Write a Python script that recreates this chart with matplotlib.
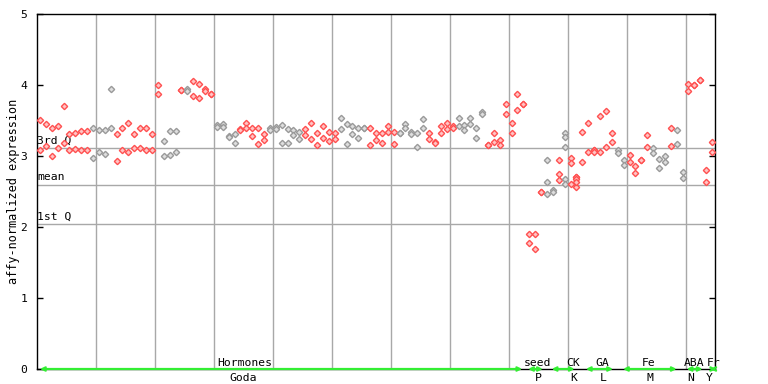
import matplotlib
matplotlib.use("Agg")
import matplotlib.pyplot as plt

# expression values per sample (replicates)
expr = [
    [3.51, 3.08], [3.45, 3.14], [3.40, 3.00], [3.42, 3.11], [3.70, 3.18],
    [3.31, 3.08], [3.33, 3.10], [3.35, 3.08], [3.35, 3.08], [3.40, 2.97],
    [3.37, 3.06], [3.37, 3.03], [3.95, 3.39], [3.31, 2.93], [3.39, 3.08],
    [3.47, 3.06], [3.31, 3.11], [3.39, 3.11], [3.39, 3.08], [3.31, 3.08],
    [4.00, 3.87], [3.21, 3.00], [3.35, 3.01], [3.35, 3.06], [3.93, 3.93],
    [3.95, 3.92], [4.06, 3.85], [4.02, 3.81], [3.94, 3.91], [3.88, 3.88],
    [3.44, 3.41], [3.45, 3.41], [3.28, 3.27], [3.31, 3.19], [3.38, 3.36],
    [3.46, 3.40], [3.40, 3.28], [3.39, 3.17], [3.31, 3.23], [3.39, 3.37],
    [3.41, 3.38], [3.44, 3.19], [3.38, 3.19], [3.36, 3.29], [3.34, 3.24],
    [3.38, 3.29], [3.46, 3.24], [3.33, 3.15], [3.42, 3.26], [3.34, 3.21],
    [3.33, 3.24], [3.53, 3.38], [3.45, 3.17], [3.42, 3.31], [3.39, 3.25],
    [3.40, 3.40], [3.39, 3.15], [3.33, 3.22], [3.32, 3.19], [3.42, 3.34],
    [3.34, 3.17], [3.33, 3.33], [3.45, 3.39], [3.34, 3.31], [3.33, 3.12],
    [3.52, 3.39], [3.33, 3.24], [3.20, 3.18], [3.42, 3.33], [3.46, 3.38],
    [3.42, 3.39], [3.54, 3.42], [3.44, 3.36], [3.54, 3.45], [3.40, 3.26],
    [3.62, 3.59], [3.16, 3.16], [3.33, 3.20], [3.23, 3.16], [3.73, 3.59],
    [3.47, 3.33], [3.88, 3.65], [3.73, 3.73], [1.90, 1.77], [1.90, 1.69],
    [2.50, 2.50], [2.95, 2.63, 2.46], [2.52, 2.49], [2.94, 2.74, 2.66],
    [3.33, 3.27, 3.13, 2.68, 2.61], [2.97, 2.90, 2.61],
    [2.71, 2.71, 2.68, 2.57, 2.63], [3.34, 2.91], [3.47, 3.05],
    [3.09, 3.09, 3.06], [3.56, 3.05], [3.64, 3.13], [3.33, 3.20],
    [3.09, 3.04], [2.95, 2.87], [3.02, 2.91], [2.86, 2.76], [2.95, 2.95],
    [3.29, 3.12], [3.11, 3.04], [2.96, 2.83], [3.00, 2.91], [3.39, 3.14],
    [3.37, 3.17], [2.77, 2.69], [4.01, 3.92], [4.00, 4.00], [4.07, 4.07],
    [2.80, 2.63], [3.20, 3.05],
]

# alternating experiment shading (r = red, g = gray)
shade = ("rrrrrrrrrggggrrrrrrrrgggrgrrrrggggrrrrrggggggrrrrrrgggggrrrrr"
         "gggggrrrrrgggggrrrrrrrrrrggrgrrrrrrrrggrrrrgggrggrrrrr")

quartiles = [("3rd Q", 3.11), ("mean", 2.59), ("1st Q", 2.04)]

groups = ["Hormones", "seed", "CK", "GA", "Fe", "ABA", "Fr"]
sub_labels = ["Goda", "P", "K", "L", "M", "N", "Y"]
group_span = [(0, 81.8), (82.8, 85.3), (86.8, 90.7), (92.6, 97.2),
              (98.9, 108.0), (109.7, 112.4), (113.7, 114.7)]
group_pos = [34.7, 84.4, 90.4, 95.3, 103.2, 110.9, 114.2]
sub_pos = [34.5, 84.5, 90.6, 95.5, 103.5, 110.4, 113.5]

plt.rcParams['font.family'] = 'DejaVu Sans Mono'
fsz = 8.2
red = '#ff5050'
gray = '#9a9a9a'
gridc = '#a8a8a8'

fig = plt.figure(figsize=(7.68, 3.84), dpi=100)
ax = fig.add_axes([37/768, 15/384, 678/768, 355/384])

n = len(expr)
ax.set_xlim(-0.5, n - 0.5)
ax.set_ylim(0, 5)

# vertical grid every 10 samples
for k in range(1, 12):
    ax.axvline(k * 10 - 0.5, color=gridc, lw=1.0, zorder=1)

for name, val in quartiles:
    ax.axhline(val, color=gridc, lw=1.0, zorder=1)
    ax.text(-0.45, val + 0.04, name, fontsize=fsz, va='bottom', ha='left', zorder=2)

for i, vals in enumerate(expr):
    c = red if shade[i] == 'r' else gray
    fc = '#ffc4c4' if shade[i] == 'r' else '#dedede'
    ax.plot([i] * len(vals), vals, linestyle='None', marker='D', markersize=3.2,
            markerfacecolor=fc, markeredgecolor=c, markeredgewidth=1.0,
            zorder=3)

# group arrows along the x axis
for (a, b), g, gp, s, sp in zip(group_span, groups, group_pos, sub_labels, sub_pos):
    ax.annotate('', xy=(a, 0), xytext=(b, 0), xycoords='data',
                arrowprops=dict(arrowstyle='<->', color='#33ee33', lw=1.6,
                                shrinkA=0, shrinkB=0, mutation_scale=6),
                annotation_clip=False, zorder=5)
    ax.text(gp, 0.045, g, fontsize=fsz, ha='center', va='baseline', zorder=6)
    ax.text(sp, -0.17, s, fontsize=fsz, ha='center', va='baseline', clip_on=False)

ax.set_xticks([])
ax.set_yticks(range(6))
ax.tick_params(axis='y', direction='in', length=4, width=1, labelsize=fsz,
               right=True, pad=7)
ax.set_ylabel("affy-normalized expression", fontsize=fsz + 0.4, labelpad=0)
for sp in ax.spines.values():
    sp.set_color('black')
    sp.set_linewidth(1.0)

fig.savefig("out.png", dpi=100)
